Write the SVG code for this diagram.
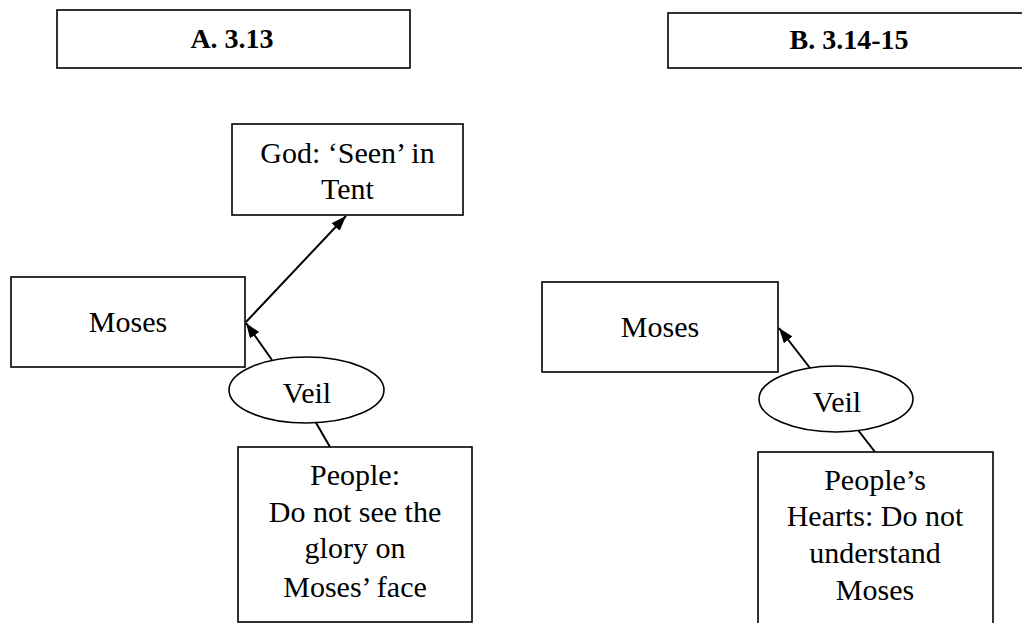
<svg xmlns="http://www.w3.org/2000/svg" width="1022" height="623" viewBox="0 0 1022 623">
<style>
.box{fill:#fff;stroke:#000;stroke-width:1.6}
.t{font-family:"Liberation Serif","Times New Roman",serif;font-size:30px;fill:#000;text-anchor:middle}
.h{font-family:"Liberation Serif","Times New Roman",serif;font-size:28px;font-weight:bold;fill:#000;text-anchor:middle}
.c{stroke:#000;stroke-width:2;fill:none}
</style>
<defs>
<marker id="arr" markerUnits="userSpaceOnUse" markerWidth="16" markerHeight="12" refX="15" refY="5.5" orient="auto">
<path d="M0,0 L15,5.5 L0,11 z" fill="#000"/>
</marker>
</defs>
<rect width="1022" height="623" fill="#fff"/>
<g id="titleA"><rect class="box" x="57" y="10" width="353" height="58"/><text class="h" x="232" y="48">A. 3.13</text></g>
<g id="titleB"><rect class="box" x="668" y="13" width="362" height="55"/><text class="h" x="849" y="49">B. 3.14-15</text></g>
<g id="godA"><rect class="box" x="232" y="124" width="231" height="91"/><text class="t" x="347.5" y="163">God: ‘Seen’ in</text><text class="t" x="347.5" y="199">Tent</text></g>
<g id="mosesA"><rect class="box" x="11" y="277" width="234" height="90"/><text class="t" x="128" y="332">Moses</text></g>
<g id="mosesB"><rect class="box" x="542" y="282" width="236" height="90"/><text class="t" x="660" y="337">Moses</text></g>
<g id="connectors">
<line class="c" x1="246" y1="322" x2="346" y2="216" marker-end="url(#arr)"/>
<line class="c" x1="272" y1="360" x2="246" y2="323" marker-end="url(#arr)"/>
<line class="c" x1="315" y1="421" x2="330" y2="447"/>
<line class="c" x1="810" y1="368" x2="779" y2="328" marker-end="url(#arr)"/>
<line class="c" x1="858" y1="430" x2="875" y2="452"/>
</g>
<g id="veilA"><ellipse class="box" cx="306.5" cy="390" rx="77.5" ry="33"/><text class="t" x="307" y="403">Veil</text></g>
<g id="veilB"><ellipse class="box" cx="836" cy="399" rx="77" ry="33"/><text class="t" x="837" y="412">Veil</text></g>
<g id="peopleA"><rect class="box" x="238" y="447" width="234" height="175"/>
<text class="t" x="355" y="485">People:</text><text class="t" x="355" y="522">Do not see the</text><text class="t" x="355" y="558">glory on</text><text class="t" x="355" y="597">Moses’ face</text></g>
<g id="peopleB"><rect class="box" x="758" y="452" width="235" height="190"/>
<text class="t" x="875" y="490">People’s</text><text class="t" x="875" y="526">Hearts: Do not</text><text class="t" x="875" y="563">understand</text><text class="t" x="875" y="600">Moses</text></g>
</svg>
